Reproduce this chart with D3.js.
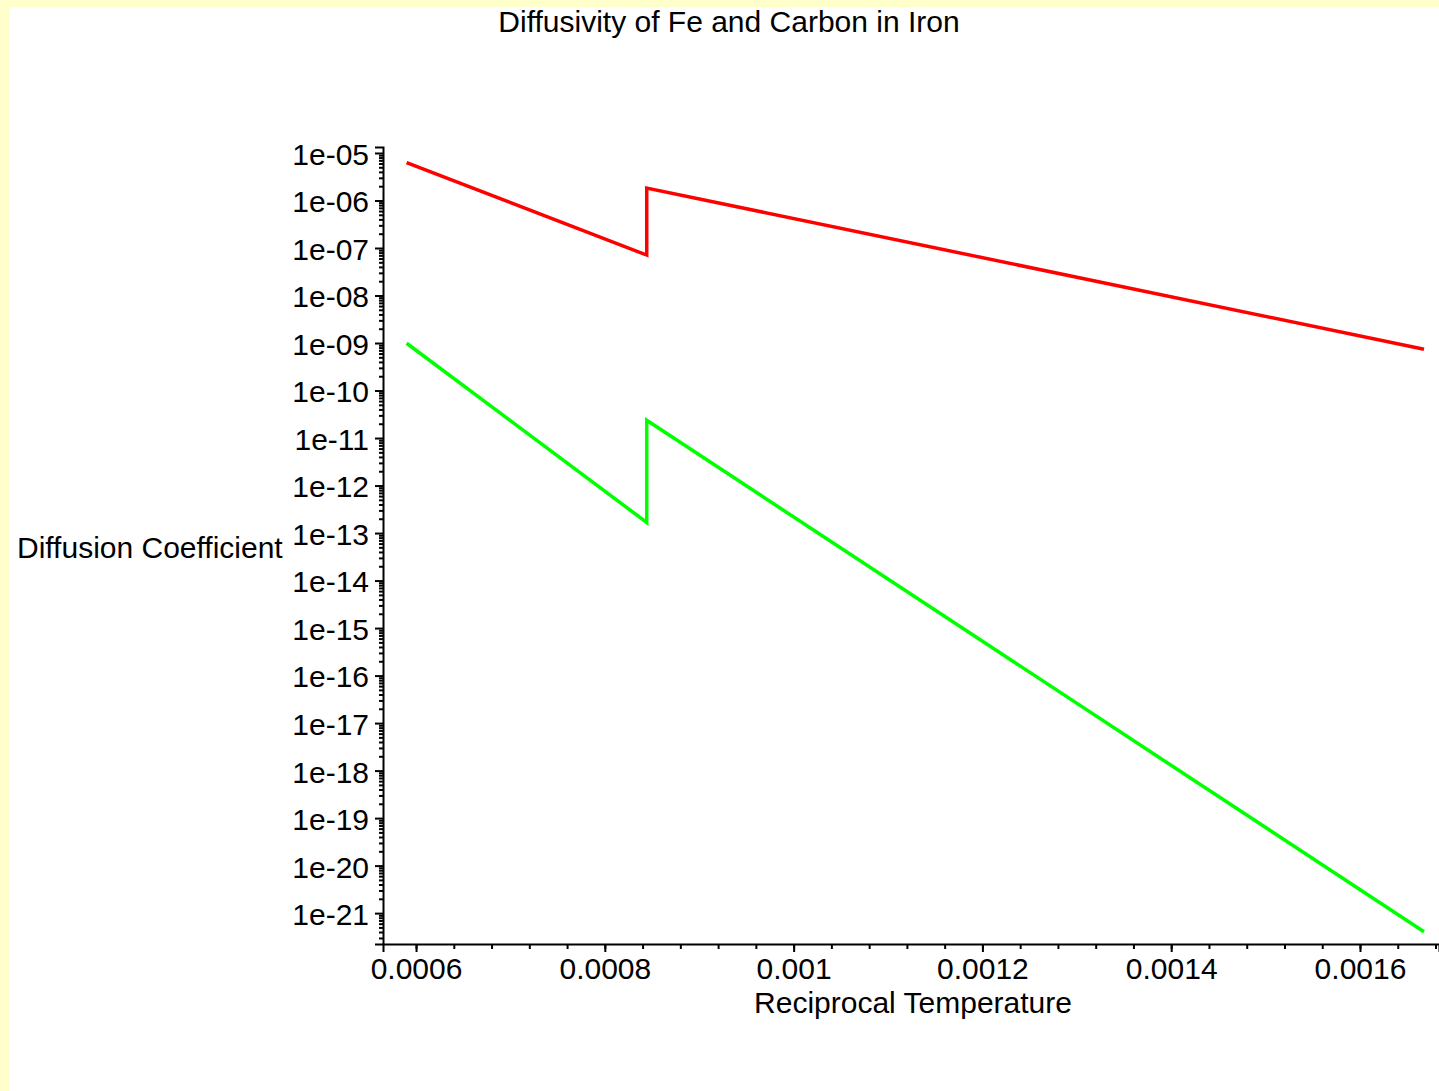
<!DOCTYPE html>
<html>
<head>
<meta charset="utf-8">
<script src="https://cdn.jsdelivr.net/npm/d3@7"></script>
<style>
  html, body { margin: 0; padding: 0; background: #ffffcc; }
  svg { display: block; }
  text { font-family: "Liberation Sans", Arial, sans-serif; fill: #000; }
</style>
</head>
<body>
<svg id="chart" width="1439" height="1091"></svg>
<script>
// ---- data ----
const titleText = "Diffusivity of Fe and Carbon in Iron";
const xLabelText = "Reciprocal Temperature";
const yLabelText = "Diffusion Coefficient";

// reciprocal temperature (1/K)
const carbonX = [0.000590, 0.0008444, 0.0008444, 0.0016678];
const carbonD = [6.3e-6, 7.1e-8, 1.83e-6, 7.4e-10];
const ironX = [0.000590, 0.0008444, 0.0008444, 0.0016678];
const ironD = [9.9e-10, 1.67e-13, 2.36e-11, 4.07e-22];

const xTicks = [0.0006, 0.0008, 0.001, 0.0012, 0.0014, 0.0016];
const xTickLabels = ["0.0006", "0.0008", "0.001", "0.0012", "0.0014", "0.0016"];
const yDecades = [-5, -6, -7, -8, -9, -10, -11, -12, -13, -14, -15, -16, -17, -18, -19, -20, -21];
const yTickLabels = ["1e-05", "1e-06", "1e-07", "1e-08", "1e-09", "1e-10", "1e-11", "1e-12", "1e-13",
                     "1e-14", "1e-15", "1e-16", "1e-17", "1e-18", "1e-19", "1e-20", "1e-21"];

const seriesColors = ["#ff0000", "#00ff00"];

// ---- layout ----
const W = 1439, H = 1091;
const svg = d3.select("#chart");

svg.append("rect").attr("x", 0).attr("y", 0).attr("width", W).attr("height", H).attr("fill", "#ffffcc");
svg.append("rect").attr("x", 9).attr("y", 7).attr("width", W - 9).attr("height", H - 7).attr("fill", "#ffffff");

const axisX = 383, axisY = 944;
const xDomain = [0.000565, 0.0016837];
const x = d3.scaleLinear().domain(xDomain).range([axisX, 1439]);
const y = d3.scaleLog().domain([Math.pow(10, -21.65), Math.pow(10, -4.874)]).range([axisY, 147]);

// minor tick values
const yMinor = [];
for (let e = -22; e <= -5; e++) {
  for (let k = 2; k <= 9; k++) {
    const v = k * Math.pow(10, e);
    if (v >= y.domain()[0] && v <= y.domain()[1]) yMinor.push(v);
  }
}
const xMinor = [];
for (let i = 0; i <= 40; i++) {
  const v = 0.00056 + i * 0.00004;
  if (v >= xDomain[0] && v <= xDomain[1] + 1e-12) xMinor.push(+v.toFixed(6));
}

const fontSize = 30;

// y axis minor
svg.append("g").attr("transform", `translate(${axisX},0)`)
  .call(d3.axisLeft(y).tickValues(yMinor).tickSize(4).tickFormat(""))
  .call(g => g.select(".domain").remove())
  .call(g => g.selectAll("line").attr("stroke", "#000").attr("stroke-width", 2));

// y axis major
const yMajorVals = yDecades.map(e => Math.pow(10, e));
svg.append("g").attr("transform", `translate(${axisX},0)`)
  .call(d3.axisLeft(y).tickValues(yMajorVals).tickSize(8).tickPadding(6)
        .tickFormat((d, i) => yTickLabels[i]))
  .call(g => g.select(".domain").attr("stroke", "#000").attr("stroke-width", 2))
  .call(g => g.selectAll("line").attr("stroke", "#000").attr("stroke-width", 2))
  .call(g => g.selectAll("text").attr("font-size", fontSize).attr("dy", "0.38em")
        .attr("font-family", "Liberation Sans, Arial, sans-serif").attr("fill", "#000"));

// x axis minor
svg.append("g").attr("transform", `translate(0,${axisY})`)
  .call(d3.axisBottom(x).tickValues(xMinor).tickSize(5).tickFormat(""))
  .call(g => g.select(".domain").remove())
  .call(g => g.selectAll("line").attr("stroke", "#000").attr("stroke-width", 2));

// x axis major
svg.append("g").attr("transform", `translate(0,${axisY})`)
  .call(d3.axisBottom(x).tickValues(xTicks).tickSize(8).tickPadding(6)
        .tickFormat((d, i) => xTickLabels[i]))
  .call(g => g.select(".domain").attr("stroke", "#000").attr("stroke-width", 2))
  .call(g => g.selectAll("line").attr("stroke", "#000").attr("stroke-width", 2))
  .call(g => g.selectAll("text").attr("font-size", fontSize)
        .attr("font-family", "Liberation Sans, Arial, sans-serif").attr("fill", "#000"));

// lines
const line = d3.line().x(d => x(d[0])).y(d => y(d[1]));
const series = [
  carbonX.map((v, i) => [v, carbonD[i]]),
  ironX.map((v, i) => [v, ironD[i]])
];
series.forEach((s, i) => {
  svg.append("path").datum(s)
    .attr("d", line)
    .attr("fill", "none")
    .attr("stroke", seriesColors[i])
    .attr("stroke-width", 3.5)
    .attr("stroke-linejoin", "miter");
});

// titles
svg.append("text").attr("x", 729).attr("y", 32).attr("text-anchor", "middle")
  .attr("font-size", fontSize).text(titleText);
svg.append("text").attr("x", 17).attr("y", 558).attr("text-anchor", "start")
  .attr("font-size", fontSize).text(yLabelText);
svg.append("text").attr("x", 913).attr("y", 1013).attr("text-anchor", "middle")
  .attr("font-size", fontSize).text(xLabelText);
</script>
</body>
</html>
